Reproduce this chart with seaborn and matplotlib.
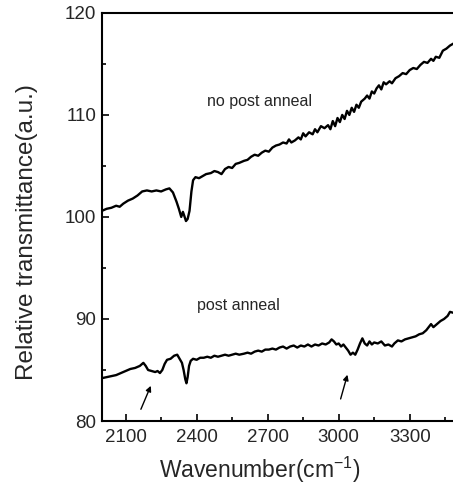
import matplotlib
matplotlib.use('Agg')
import matplotlib.pyplot as plt
from matplotlib.ticker import MultipleLocator
import numpy as np
import pandas as pd
import seaborn as sns

# no post anneal spectrum
wn_upper = [2000, 2020, 2040, 2060, 2075, 2090, 2110, 2130, 2150, 2170, 2190, 2210,
            2230, 2250, 2270, 2285, 2300, 2315, 2325, 2335, 2342, 2348, 2355, 2362,
            2370, 2378, 2385, 2395, 2410, 2425, 2440, 2460, 2475, 2490, 2505, 2520,
            2535, 2550, 2565, 2580, 2600, 2615, 2630, 2645, 2660, 2675, 2690, 2705,
            2720, 2735, 2750, 2765, 2780, 2790, 2800, 2815, 2830, 2840, 2850, 2860,
            2875, 2890, 2900, 2910, 2925, 2940, 2955, 2965, 2975, 2985, 2995, 3005,
            3015, 3025, 3035, 3045, 3055, 3065, 3075, 3085, 3095, 3110, 3120, 3130,
            3140, 3150, 3160, 3170, 3180, 3190, 3200, 3215, 3225, 3240, 3255, 3270,
            3285, 3300, 3315, 3330, 3345, 3360, 3375, 3390, 3400, 3410, 3425, 3440,
            3455, 3470, 3485]
tr_upper = [100.6, 100.8, 100.9, 101.1, 101.0, 101.3, 101.6, 101.8, 102.1, 102.5, 102.6, 102.5,
            102.6, 102.5, 102.7, 102.8, 102.4, 101.5, 100.8, 100.0, 100.5, 100.1, 99.6, 99.8,
            100.6, 102.5, 103.6, 103.9, 103.8, 104.0, 104.2, 104.3, 104.5, 104.4, 104.2, 104.7,
            104.9, 104.8, 105.2, 105.3, 105.5, 105.6, 105.9, 106.1, 106.0, 106.3, 106.5, 106.4,
            106.8, 107.0, 107.1, 107.3, 107.2, 107.6, 107.3, 107.5, 107.8, 107.6, 108.2, 107.9,
            108.3, 108.1, 108.6, 108.3, 108.9, 108.7, 109.0, 108.6, 109.4, 108.9, 109.7, 109.3,
            110.0, 109.6, 110.4, 110.0, 110.7, 110.3, 111.0, 110.7, 111.3, 111.6, 111.9, 111.6,
            112.3, 112.1, 112.6, 112.9, 112.5, 113.2, 113.0, 113.3, 113.1, 113.6, 113.8, 114.1,
            114.0, 114.4, 114.6, 114.5, 114.9, 115.2, 115.1, 115.5, 115.3, 115.7, 115.6, 116.3,
            116.5, 116.8, 117.0]

# post anneal spectrum
wn_lower = [2000, 2020, 2040, 2060, 2080, 2100, 2120, 2140, 2160, 2175, 2185, 2195,
            2210, 2225, 2235, 2245, 2255, 2265, 2275, 2290, 2305, 2318, 2328, 2338,
            2345, 2352, 2357, 2362, 2368, 2375, 2385, 2400, 2415, 2430, 2445, 2460,
            2475, 2490, 2505, 2520, 2535, 2550, 2565, 2580, 2600, 2615, 2630, 2645,
            2660, 2675, 2690, 2705, 2720, 2735, 2750, 2765, 2780, 2795, 2810, 2825,
            2840, 2855, 2870, 2885, 2900, 2915, 2930, 2945, 2960, 2970, 2980, 2990,
            3000, 3010, 3020, 3030, 3040, 3050, 3060, 3070, 3080, 3090, 3100, 3110,
            3120, 3130, 3140, 3150, 3165, 3180, 3195, 3210, 3225, 3235, 3250, 3265,
            3280, 3295, 3310, 3325, 3340, 3355, 3370, 3380, 3390, 3400, 3415, 3430,
            3445, 3460, 3470, 3485]
tr_lower = [84.2, 84.3, 84.4, 84.5, 84.7, 84.9, 85.1, 85.2, 85.4, 85.7, 85.4, 85.0,
            84.9, 84.8, 84.9, 84.7, 85.0, 85.6, 86.0, 86.1, 86.4, 86.5, 86.1, 85.7,
            85.0, 84.1, 83.7, 84.3, 85.4, 85.9, 86.1, 86.0, 86.2, 86.2, 86.3, 86.2,
            86.4, 86.3, 86.4, 86.5, 86.4, 86.5, 86.6, 86.5, 86.6, 86.7, 86.6, 86.8,
            86.9, 86.8, 87.0, 87.0, 87.1, 87.0, 87.2, 87.3, 87.1, 87.3, 87.4, 87.2,
            87.4, 87.3, 87.5, 87.3, 87.5, 87.4, 87.6, 87.5, 87.7, 88.0, 87.8, 87.5,
            87.6, 87.3, 87.5, 87.2, 86.9, 86.5, 86.7, 86.5, 87.0, 87.6, 88.1, 87.6,
            87.4, 87.8, 87.5, 87.7, 87.6, 87.8, 87.4, 87.5, 87.3, 87.6, 87.9, 87.8,
            88.0, 88.1, 88.2, 88.3, 88.5, 88.6, 88.9, 89.2, 89.5, 89.2, 89.5, 89.8,
            90.0, 90.3, 90.7, 90.6]

sns.set_style('ticks')
plt.rcParams['font.family'] = ['Liberation Sans', 'DejaVu Sans']
plt.rcParams['mathtext.default'] = 'regular'

fig = plt.figure(figsize=(4.53, 4.87), dpi=100)
ax = fig.add_axes([0.225, 0.1355, 0.784, 0.838])

sns.lineplot(x=wn_upper, y=tr_upper, color='black', lw=1.7, sort=False, ax=ax)
sns.lineplot(x=wn_lower, y=tr_lower, color='black', lw=1.7, sort=False, ax=ax)

ax.set_xlim(2000, 3500)
ax.set_ylim(80, 120)
ax.xaxis.set_minor_locator(MultipleLocator(150))
ax.yaxis.set_major_locator(MultipleLocator(10))
ax.yaxis.set_minor_locator(MultipleLocator(5))
ax.set_xticks([2100, 2400, 2700, 3000, 3300])
ax.tick_params(which='both', direction='in', labelsize=13.5, width=1.2, color='black')
ax.tick_params(which='major', length=5)
ax.tick_params(which='minor', length=3)
ax.tick_params(axis='x', pad=6)
ax.tick_params(axis='y', pad=4)
for s in ax.spines.values():
    s.set_linewidth(1.5)
    s.set_color('black')

ax.set_xlabel('Wavenumber(cm$^{-1}$)', fontsize=16.5)
ax.set_ylabel('Relative transmittance(a.u.)', fontsize=17.5)
ax.xaxis.set_label_coords(0.445, -0.084)
ax.yaxis.set_label_coords(-0.18, 0.463)

ax.text(2665, 111.3, 'no post anneal', fontsize=11.5, ha='center', va='center')
ax.text(2575, 91.3, 'post anneal', fontsize=11.5, ha='center', va='center')
ax.annotate('', xy=(2211, 83.7), xytext=(2160, 80.9),
            arrowprops=dict(arrowstyle='-|>', color='black', lw=1, mutation_scale=8))
ax.annotate('', xy=(3040, 84.8), xytext=(3005, 81.9),
            arrowprops=dict(arrowstyle='-|>', color='black', lw=1, mutation_scale=8))

fig.savefig('out.png', dpi=100)
